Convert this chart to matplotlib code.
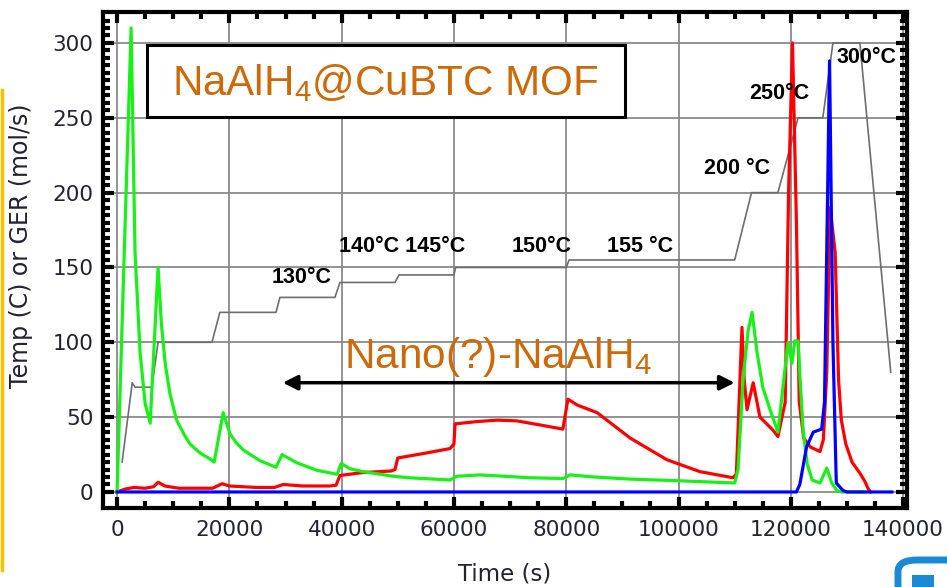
import matplotlib
matplotlib.use("Agg")
import matplotlib.pyplot as plt
from matplotlib.lines import Line2D
from matplotlib.patches import Rectangle, FancyBboxPatch

plt.rcParams['font.family'] = ['Liberation Sans', 'DejaVu Sans']
plt.rcParams['mathtext.fontset'] = 'custom'
plt.rcParams['mathtext.rm'] = 'Liberation Sans'

# temperature program (gray)
temp_t = [900, 2700, 3200, 6200, 7300, 16900, 18300, 28300, 29000, 38800, 39700,
          49500, 50200, 60000, 60300, 80000, 80500, 110000, 113000, 117700,
          121300, 125700, 127500, 132300, 137800]
temp_v = [20, 73, 70, 70, 100, 100, 120, 120, 130, 130, 140,
          140, 145, 145, 150, 150, 155, 155, 200, 200,
          250, 250, 300, 300, 80]

# green trace
green_t = [0, 1200, 2500, 3200, 4100, 5000, 5900, 7300, 7900, 8600, 9400, 10600,
           12000, 13000, 14800, 16600, 17300, 18900, 20100, 21200, 22500, 25400,
           28300, 29400, 32000, 35600, 39200, 39900, 41500, 43800, 49200, 52000,
           59300, 60500, 64600, 69000, 73500, 79400, 80700, 85000, 91400, 100000,
           110000, 110600, 111500, 112400, 113100, 114000, 115000, 116300, 117700,
           118600, 119500, 120200, 120700, 121300, 121600, 122200, 122900, 123800,
           125200, 126400, 127300, 128200, 129000, 133000]
green_v = [0, 150, 310, 160, 93, 59, 46, 150, 112, 85, 66, 48,
           38, 32, 26, 22, 20, 53, 39, 33, 28, 21,
           16.5, 25, 19.5, 14.5, 11.8, 19, 15.5, 13.6, 10.5, 9.5,
           8, 10.5, 11.4, 10.5, 9.5, 9, 11.4, 10, 8.6, 7.5,
           6, 15, 75, 108, 120, 93, 70, 55, 40,
           70, 100, 86, 101, 101, 79, 41, 19, 8,
           6, 16, 6, 1, 0, 0]

# red trace
red_t = [0, 1500, 3000, 5000, 6500, 7300, 8500, 11000, 14000, 17000, 18700, 20000,
         25000, 28000, 29600, 33000, 37900, 39000, 39700, 43800, 48800, 49500,
         50000, 55000, 59300, 60000, 60200, 64000, 67700, 71200, 75000, 79400,
         80300, 82000, 85500, 91400, 97900, 103800, 109700, 110300, 111300, 111700,
         112200, 113300, 114500, 116900, 117700, 119000, 119600, 120300, 121000,
         121500, 122300, 123500, 125200, 125800, 126400, 127000, 127900, 128500,
         129000, 129800, 130900, 132400, 133200, 133800, 134200]
red_v = [0, 2, 3, 2.5, 3.5, 6.5, 4, 2.5, 2.5, 2.5, 5.5, 4,
         3, 3, 5, 4, 4, 4.5, 11, 13, 14, 15,
         22.7, 26, 29, 32, 45.5, 47, 48, 47.5, 45, 42,
         62, 58, 53, 36, 21.6, 13.6, 9.5, 12, 110, 75,
         55, 73, 50, 41, 37, 60, 200, 300, 180,
         60, 36, 30, 27, 35, 80, 190, 160, 75,
         48, 32, 20, 12, 7, 2, 0]

# blue trace
blue_t = [0, 121000, 121600, 122800, 124000, 125500, 126000, 126900, 127500,
          128100, 129300, 130000, 138000]
blue_v = [0, 0, 5, 30, 40, 42, 60, 288, 100, 6, 1, 0, 0]

temp_labels = ["130°C", "140°C 145°C", "150°C", "155 °C", "200 °C", "250°C", "300°C"]
label_x = [32950, 50750, 75700, 93150, 110400, 117900, 133400]
label_y = [143, 164, 164, 164, 216, 266, 290.6]

fig = plt.figure(figsize=(9.47, 5.87), dpi=100)
ax = fig.add_axes([0.1088, 0.1346, 0.849, 0.8450])

ax.plot(temp_t, temp_v, color='#6e6e6e', lw=1.2, zorder=3)
ax.plot(red_t, red_v, color='#ff0000', lw=2.3, zorder=4)
ax.plot(green_t, green_v, color='#18f018', lw=2.3, zorder=5)
ax.plot(blue_t, blue_v, color='#0000ff', lw=2.3, zorder=6)

ax.set_xlim(-2500, 140700)
ax.set_ylim(-10.7, 320.7)
ax.set_xticks(range(0, 140001, 20000))
ax.set_xticks(range(0, 140001, 5000), minor=True)
ax.set_yticks(range(0, 301, 50))
ax.set_yticks(range(0, 316, 5), minor=True)
ax.grid(True, which='major', color='#8a8a8a', lw=1.3, zorder=1)

lab_col = '#222230'
ax.tick_params(which='both', direction='in', top=True, right=True, colors='k',
               labelcolor=lab_col, labelsize=15.5)
ax.tick_params(which='major', length=8, width=3)
ax.tick_params(which='minor', length=5, width=3)
ax.tick_params(axis='y', pad=7)
ax.tick_params(axis='x', pad=9)
for lbl in ax.get_xticklabels() + ax.get_yticklabels():
    lbl.set_family('DejaVu Sans')
for s in ax.spines.values():
    s.set_linewidth(3)

ax.set_xlabel("Time (s)", fontsize=16.5, color=lab_col, labelpad=16, family='DejaVu Sans')
ax.set_ylabel("Temp (C) or GER (mol/s)", fontsize=17, color=lab_col,
              family='DejaVu Sans')
ax.yaxis.set_label_coords(-0.087, 0.528)

for txt, x, y in zip(temp_labels, label_x, label_y):
    ax.text(x, y, txt, fontsize=15.5, fontweight='bold', ha='center', va='center', zorder=7)

orange = '#cc6a0a'
ax.annotate('', xy=(29500, 73), xytext=(110000, 73),
            arrowprops=dict(arrowstyle='<|-|>', lw=2.5, color='k', mutation_scale=22,
                            shrinkA=0, shrinkB=0), zorder=7)
ax.text(40400, 82.8, r"Nano(?)-NaAlH$_\mathregular{4}$", fontsize=30.5,
        color=orange, ha='left', va='baseline', zorder=7)

# title box
fig.add_artist(Rectangle((147 / 947, 1 - 117 / 587), 478 / 947, 72 / 587,
                         transform=fig.transFigure, facecolor='white',
                         edgecolor='k', lw=2.2, zorder=8))
fig.text(385 / 947, 1 - 95 / 587, r"NaAlH$_\mathregular{4}$@CuBTC MOF", fontsize=30.3,
         color=orange, ha='center', va='baseline', zorder=9)

# yellow side bar and partial logo
fig.add_artist(Line2D([0.002, 0.002], [1 - 90 / 587, 1 - 570 / 587],
                      transform=fig.transFigure, color='#ffc000', lw=2.5))
fig.add_artist(FancyBboxPatch((898 / 947, 1 - 610 / 587), 70 / 947, 50 / 587,
                              boxstyle='round,pad=0,rounding_size=0.02',
                              transform=fig.transFigure, facecolor='none',
                              edgecolor='#1a8ad4', lw=5))
fig.add_artist(Rectangle((912 / 947, 0), 22 / 947, 12 / 587,
                         transform=fig.transFigure, facecolor='#1a8ad4',
                         edgecolor='none'))

fig.savefig("out.png", dpi=100)
